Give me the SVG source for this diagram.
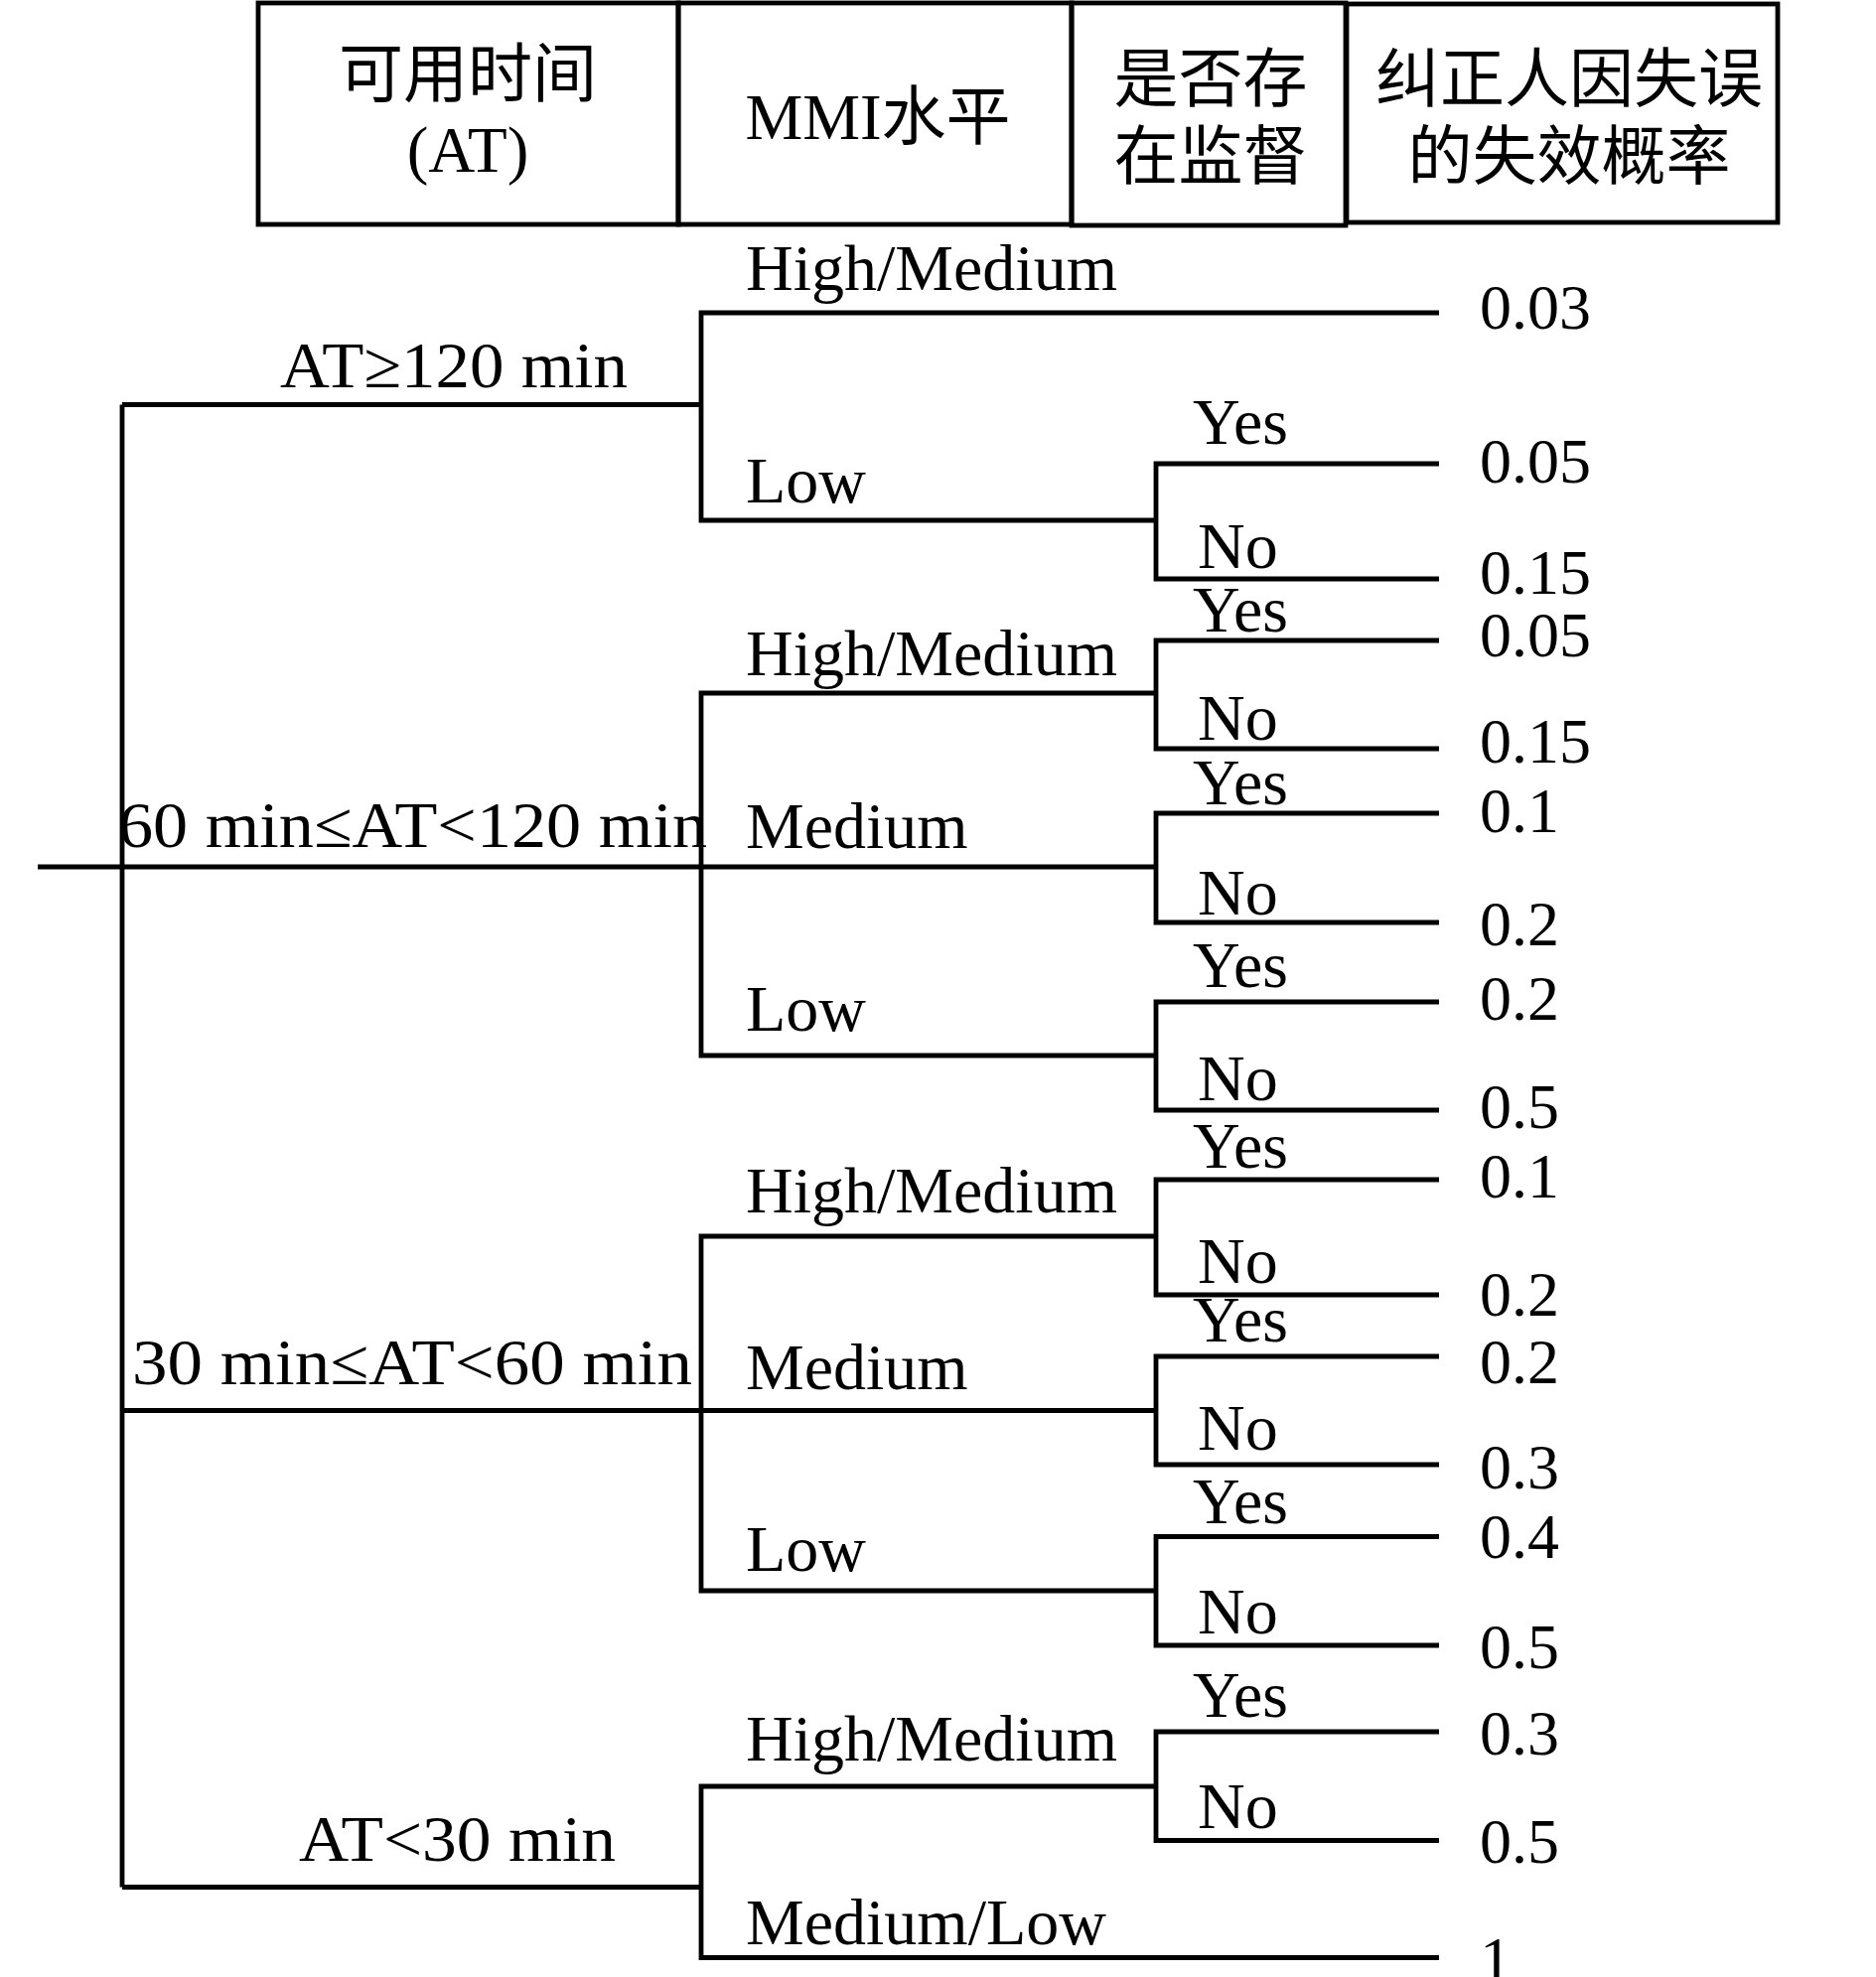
<svg xmlns="http://www.w3.org/2000/svg" width="1889" height="1991" viewBox="0 0 1889 1991">
<style>
  .ln { fill: none; stroke: #000; stroke-width: 4.8; }
  .t { font-family: "Liberation Serif", "Noto Sans CJK SC", serif; fill: #000; font-size: 66px; }
  .h { font-family: "Liberation Serif", "Noto Sans CJK SC", serif; fill: #000; font-size: 65px; text-anchor: middle; }
  .v { font-family: "Liberation Serif", serif; fill: #000; font-size: 64px; }
</style>
<rect width="1889" height="1991" fill="#fff"/>
<g id="header">
  <g id="h-at">
    <rect class="ln" x="260" y="3" width="423" height="223"/>
    <text class="h" x="471" y="97">可用时间</text>
    <text class="h" x="471" y="173" font-size="66">(AT)</text>
  </g>
  <g id="h-mmi">
    <rect class="ln" x="683" y="3" width="396" height="223"/>
    <text class="h" x="884" y="140">MMI水平</text>
  </g>
  <g id="h-sup">
    <rect class="ln" x="1079" y="3" width="276" height="224"/>
    <text class="h" x="1219" y="102">是否存</text>
    <text class="h" x="1219" y="180">在监督</text>
  </g>
  <g id="h-prob">
    <rect class="ln" x="1356" y="4" width="434" height="220"/>
    <text class="h" x="1580" y="102">纠正人因失误</text>
    <text class="h" x="1580" y="180">的失效概率</text>
  </g>
</g>
<g id="connectors">
  <path class="ln" d="M38,873 H706"/>
  <path class="ln" d="M123,407.5 V1900.5"/>
  <path class="ln" d="M123,407.5 H706"/>
  <path class="ln" d="M123,1420.5 H706"/>
  <path class="ln" d="M123,1900.5 H706"/>
  <path class="ln" d="M1449,315 H706 V524 H1164"/>
  <path class="ln" d="M1449,467 H1164 V583 H1449"/>
  <path class="ln" d="M1164,698 H706 V1063 H1164"/>
  <path class="ln" d="M706,873 H1164"/>
  <path class="ln" d="M1449,645 H1164 V754 H1449"/>
  <path class="ln" d="M1449,819 H1164 V929 H1449"/>
  <path class="ln" d="M1449,1009 H1164 V1118 H1449"/>
  <path class="ln" d="M1164,1245 H706 V1602 H1164"/>
  <path class="ln" d="M706,1420.5 H1164"/>
  <path class="ln" d="M1449,1188 H1164 V1304 H1449"/>
  <path class="ln" d="M1449,1366 H1164 V1475 H1449"/>
  <path class="ln" d="M1449,1547.5 H1164 V1657 H1449"/>
  <path class="ln" d="M1164,1799 H706 V1971.5 H1449"/>
  <path class="ln" d="M1449,1744 H1164 V1853.5 H1449"/>
</g>
<g id="level1">
  <g id="n-at120"><text class="t" x="282" y="390" textLength="350" lengthAdjust="spacingAndGlyphs">AT≥120 min</text></g>
  <g id="n-at60"><text class="t" x="119" y="853" textLength="593" lengthAdjust="spacingAndGlyphs">60 min≤AT&lt;120 min</text></g>
  <g id="n-at30"><text class="t" x="133" y="1394" textLength="564" lengthAdjust="spacingAndGlyphs">30 min≤AT&lt;60 min</text></g>
  <g id="n-atlt30"><text class="t" x="301" y="1874" textLength="319" lengthAdjust="spacingAndGlyphs">AT&lt;30 min</text></g>
</g>
<g id="level2">
  <g id="m1-hm"><text class="t" x="751" y="292">High/Medium</text></g>
  <g id="m1-l"><text class="t" x="751" y="506">Low</text></g>
  <g id="m2-hm"><text class="t" x="751" y="680">High/Medium</text></g>
  <g id="m2-m"><text class="t" x="751" y="854">Medium</text></g>
  <g id="m2-l"><text class="t" x="751" y="1038">Low</text></g>
  <g id="m3-hm"><text class="t" x="751" y="1221">High/Medium</text></g>
  <g id="m3-m"><text class="t" x="751" y="1399">Medium</text></g>
  <g id="m3-l"><text class="t" x="751" y="1582">Low</text></g>
  <g id="m4-hm"><text class="t" x="751" y="1773">High/Medium</text></g>
  <g id="m4-ml"><text class="t" x="751" y="1958">Medium/Low</text></g>
</g>
<g id="level3">
  <g id="s1y"><text class="t" x="1201" y="447">Yes</text></g>
  <g id="s1n"><text class="t" x="1206" y="572">No</text></g>
  <g id="s2y"><text class="t" x="1201" y="636">Yes</text></g>
  <g id="s2n"><text class="t" x="1206" y="745">No</text></g>
  <g id="s3y"><text class="t" x="1201" y="810">Yes</text></g>
  <g id="s3n"><text class="t" x="1206" y="921">No</text></g>
  <g id="s4y"><text class="t" x="1201" y="994">Yes</text></g>
  <g id="s4n"><text class="t" x="1206" y="1108">No</text></g>
  <g id="s5y"><text class="t" x="1201" y="1176">Yes</text></g>
  <g id="s5n"><text class="t" x="1206" y="1292">No</text></g>
  <g id="s6y"><text class="t" x="1201" y="1351">Yes</text></g>
  <g id="s6n"><text class="t" x="1206" y="1460">No</text></g>
  <g id="s7y"><text class="t" x="1201" y="1534">Yes</text></g>
  <g id="s7n"><text class="t" x="1206" y="1645">No</text></g>
  <g id="s8y"><text class="t" x="1201" y="1729">Yes</text></g>
  <g id="s8n"><text class="t" x="1206" y="1841">No</text></g>
</g>
<g id="values">
  <g id="p1"><text class="v" x="1490" y="331">0.03</text></g>
  <g id="p2"><text class="v" x="1490" y="486">0.05</text></g>
  <g id="p3"><text class="v" x="1490" y="598">0.15</text></g>
  <g id="p4"><text class="v" x="1490" y="661">0.05</text></g>
  <g id="p5"><text class="v" x="1490" y="768">0.15</text></g>
  <g id="p6"><text class="v" x="1490" y="838">0.1</text></g>
  <g id="p7"><text class="v" x="1490" y="952">0.2</text></g>
  <g id="p8"><text class="v" x="1490" y="1027">0.2</text></g>
  <g id="p9"><text class="v" x="1490" y="1136">0.5</text></g>
  <g id="p10"><text class="v" x="1490" y="1206">0.1</text></g>
  <g id="p11"><text class="v" x="1490" y="1325">0.2</text></g>
  <g id="p12"><text class="v" x="1490" y="1393">0.2</text></g>
  <g id="p13"><text class="v" x="1490" y="1499">0.3</text></g>
  <g id="p14"><text class="v" x="1490" y="1569">0.4</text></g>
  <g id="p15"><text class="v" x="1490" y="1680">0.5</text></g>
  <g id="p16"><text class="v" x="1490" y="1767">0.3</text></g>
  <g id="p17"><text class="v" x="1490" y="1876">0.5</text></g>
  <g id="p18"><text class="v" x="1490" y="1995">1</text></g>
</g>
</svg>
